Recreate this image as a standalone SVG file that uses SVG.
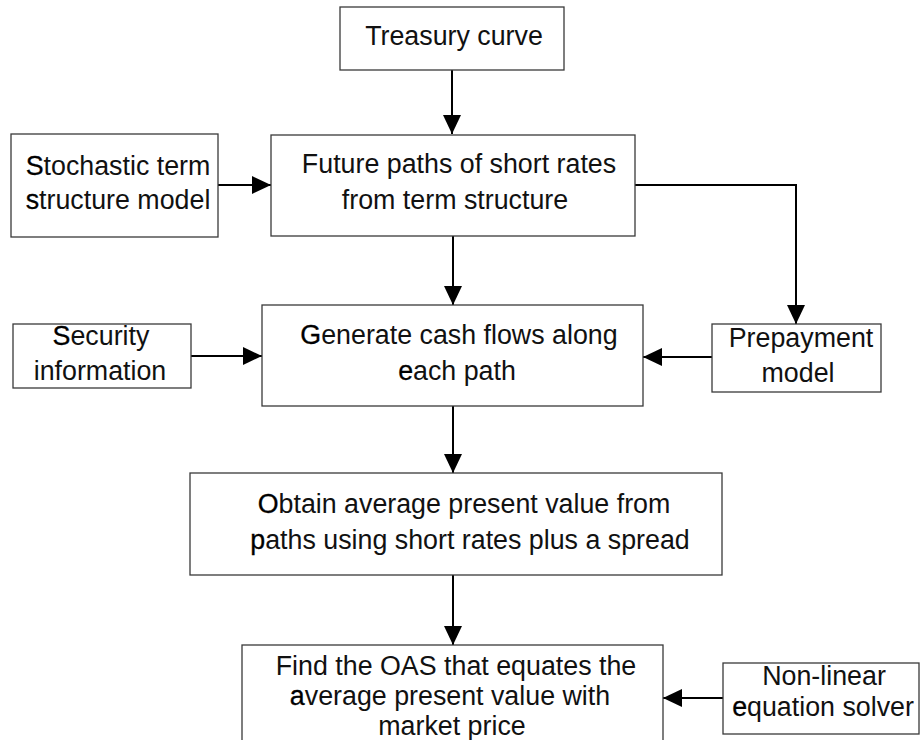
<svg xmlns="http://www.w3.org/2000/svg" width="921" height="740" viewBox="0 0 921 740">
  <style>
    .box { fill: #fff; stroke: #3a3a3a; stroke-width: 1.3; }
    .lbl { font-family: "Liberation Sans", Arial, sans-serif; font-size: 26.8px; fill: #111; text-anchor: middle; }
    .lead { stroke: #000; stroke-width: 0.3; fill: #000; }
    .edge { fill: none; stroke: #000; stroke-width: 2; marker-end: url(#arrow); }
  </style>
  <defs>
    <marker id="arrow" markerUnits="userSpaceOnUse" markerWidth="19" markerHeight="18" refX="19" refY="9" orient="auto">
      <path d="M0,0 L19,9 L0,18 Z" fill="#000"/>
    </marker>
  </defs>
  <rect width="921" height="740" fill="#fff"/>

  <g id="connectors">
    <line class="edge" x1="452" y1="70" x2="452" y2="134"/>
    <line class="edge" x1="218" y1="185" x2="271" y2="185"/>
    <polyline class="edge" points="635,185 796,185 796,324"/>
    <line class="edge" x1="453" y1="236" x2="453" y2="305"/>
    <line class="edge" x1="191" y1="356" x2="262" y2="356"/>
    <line class="edge" x1="712" y1="357" x2="643" y2="357"/>
    <line class="edge" x1="453" y1="406" x2="453" y2="473"/>
    <line class="edge" x1="453" y1="575" x2="453" y2="645"/>
    <line class="edge" x1="723" y1="698" x2="663" y2="698"/>
  </g>

  <g id="treasury">
    <rect class="box" x="340" y="7" width="224" height="63"/>
    <text class="lbl" x="454" y="45">Treasury curve</text>
  </g>

  <g id="stochastic">
    <rect class="box" x="11" y="134" width="207" height="103"/>
    <text class="lbl" x="118" y="175"><tspan class="lead">S</tspan>tochastic term</text>
    <text class="lbl" x="118" y="209"><tspan class="lead">s</tspan>tructure model</text>
  </g>

  <g id="future">
    <rect class="box" x="271" y="135" width="364" height="101"/>
    <text class="lbl" x="459" y="173">Future paths of short rates</text>
    <text class="lbl" x="455" y="209">from term structure</text>
  </g>

  <g id="security">
    <rect class="box" x="13" y="324" width="178" height="64"/>
    <text class="lbl" x="101" y="345"><tspan class="lead">S</tspan>ecurity</text>
    <text class="lbl" x="100" y="380">information</text>
  </g>

  <g id="generate">
    <rect class="box" x="262" y="305" width="381" height="101"/>
    <text class="lbl" x="459" y="344"><tspan class="lead">G</tspan>enerate cash flows along</text>
    <text class="lbl" x="457" y="380"><tspan class="lead">e</tspan>ach path</text>
  </g>

  <g id="prepayment">
    <rect class="box" x="712" y="324" width="169" height="68"/>
    <text class="lbl" x="801" y="347">Prepayment</text>
    <text class="lbl" x="798" y="382">model</text>
  </g>

  <g id="obtain">
    <rect class="box" x="190" y="473" width="532" height="102"/>
    <text class="lbl" x="464" y="513"><tspan class="lead">O</tspan>btain average present value from</text>
    <text class="lbl" x="470" y="549"><tspan class="lead">p</tspan>aths using short rates plus a spread</text>
  </g>

  <g id="find-oas">
    <rect class="box" x="242" y="645" width="421" height="130"/>
    <text class="lbl" x="456" y="675">Find the OAS that equates the</text>
    <text class="lbl" x="450" y="705"><tspan class="lead">a</tspan>verage present value with</text>
    <text class="lbl" x="452" y="735">market price</text>
  </g>

  <g id="solver">
    <rect class="box" x="723" y="663" width="196" height="71"/>
    <text class="lbl" x="824" y="685">Non-linear</text>
    <text class="lbl" x="823" y="716"><tspan class="lead">e</tspan>quation solver</text>
  </g>
</svg>
